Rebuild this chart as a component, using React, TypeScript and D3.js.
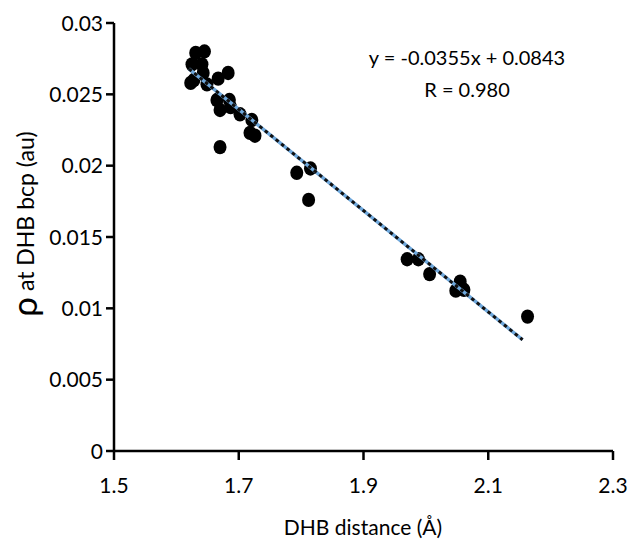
import React from 'react';
import * as d3 from 'd3';

// DHB distance (Å) vs electron density at bcp (au)
const distance = [1.631, 1.645, 1.625, 1.641, 1.623, 1.628, 1.643, 1.649, 1.667, 1.683, 1.665, 1.670, 1.685, 1.687, 1.702, 1.721, 1.718, 1.726, 1.670, 1.793, 1.815, 1.812, 1.970, 1.988, 2.006, 2.055, 2.048, 2.061, 2.163];
const rho = [0.0279, 0.0280, 0.0271, 0.0271, 0.0258, 0.0260, 0.0265, 0.0257, 0.0261, 0.0265, 0.0246, 0.0239, 0.0246, 0.0241, 0.0236, 0.0232, 0.0223, 0.0221, 0.0213, 0.0195, 0.0198, 0.0176, 0.01344, 0.01344, 0.0124, 0.01187, 0.01124, 0.0113, 0.00942];

const xTicks = [1.5, 1.7, 1.9, 2.1, 2.3];
const yTicks = [0, 0.005, 0.01, 0.015, 0.02, 0.025, 0.03];

const slope = -0.0355;
const intercept = 0.0843;
const fitRange = [1.62, 2.155];

const font = "Lato, 'Open Sans', sans-serif";

export default function App() {
  const width = 628, height = 544;
  const x = d3.scaleLinear().domain([1.5, 2.3]).range([114, 613]);
  const y = d3.scaleLinear().domain([0, 0.03]).range([451, 23]);

  const fit = fitRange.map(d => [x(d), y(slope * d + intercept)] as [number, number]);
  const fitPath = d3.line()(fit) || '';

  return (
    <svg width={width} height={height} style={{ position: 'absolute', left: 0, top: 0, background: '#fff' }}>
      <g fontFamily={font} fill="#000">
        {/* axes */}
        <line x1={x(1.5)} x2={x(2.3)} y1={y(0)} y2={y(0)} stroke="#000" strokeWidth={2.5} />
        <line x1={x(1.5)} x2={x(1.5)} y1={y(0)} y2={y(0.03)} stroke="#000" strokeWidth={2.5} />
        {yTicks.map(t => (
          <g key={'y' + t}>
            <line x1={x(1.5) - 8} x2={x(1.5)} y1={y(t)} y2={y(t)} stroke="#000" strokeWidth={2.5} />
            <text x={x(1.5) - 11} y={y(t)} dy="0.36em" textAnchor="end" fontSize={21}>{t === 0 ? '0' : String(t)}</text>
          </g>
        ))}
        {xTicks.map(t => (
          <g key={'x' + t}>
            <line x1={x(t)} x2={x(t)} y1={y(0)} y2={y(0) + 9} stroke="#000" strokeWidth={2.5} />
            <text x={x(t)} y={y(0) + 42} textAnchor="middle" fontSize={21}>{t.toFixed(1)}</text>
          </g>
        ))}

        {/* points */}
        {distance.map((d, i) => (
          <ellipse key={i} cx={x(d)} cy={y(rho[i])} rx={6.5} ry={7.2} fill="#000" />
        ))}

        {/* trend line */}
        <path d={fitPath} stroke="#6fa8dc" strokeWidth={3.5} fill="none" />
        <path d={fitPath} stroke="#111" strokeWidth={3} strokeDasharray="3.5 3.5" fill="none" />

        {/* equation */}
        <text x={467} y={65} textAnchor="middle" fontSize={20}>y = -0.0355x + 0.0843</text>
        <text x={467} y={97} textAnchor="middle" fontSize={20}>R = 0.980</text>

        {/* titles */}
        <text x={363} y={535} textAnchor="middle" fontSize={21}>DHB distance (Å)</text>
        <text transform="translate(34,224) rotate(-90)" textAnchor="middle" fontSize={23}>
          <tspan fontSize={35} dy="3">ρ</tspan>
          <tspan dy="-3"> at DHB bcp (au)</tspan>
        </text>
      </g>
    </svg>
  );
}
